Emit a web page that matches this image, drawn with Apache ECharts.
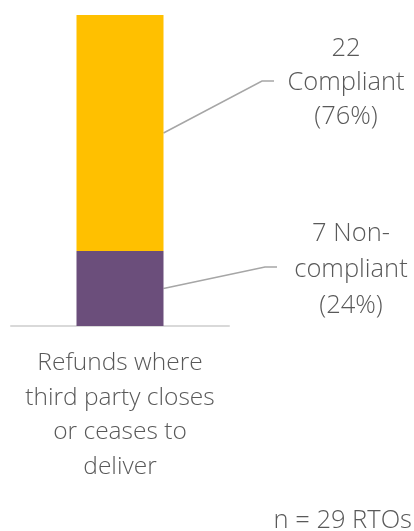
<!DOCTYPE html>
<html>
<head>
<meta charset="utf-8">
<script src="https://cdn.jsdelivr.net/npm/echarts@6/dist/echarts.min.js"></script>
<style>
  html, body { margin: 0; padding: 0; background: #fff; }
  #chart { width: 414px; height: 531px; }
</style>
</head>
<body>
<div id="chart"></div>
<script>
// Data
const categories = ['Refunds where\nthird party closes\nor ceases to\ndeliver'];
const nonCompliant = [7];
const compliant = [22];
const nonCompliantText = '7 Non-\ncompliant';
const compliantText = '22\nCompliant';
const sampleNote = 'n = 29 RTOs';

const total = nonCompliant[0] + compliant[0];
const pct = v => '(' + Math.round(v / total * 100) + '%)';

// Styling
const FONT = '"Open Sans", "Segoe UI", sans-serif';
const WEIGHT = 350;
const TEXT = '#595959';
const LEADER = '#A6A6A6';
const BAR_W = 87;

const chart = echarts.init(document.getElementById('chart'), null, { renderer: 'canvas' });

chart.setOption({
  animation: false,
  grid: { left: 11, right: 185, top: 15, bottom: 205 },
  xAxis: {
    type: 'category',
    data: categories,
    axisLine: { lineStyle: { color: '#D9D9D9', width: 2 } },
    axisTick: { show: false },
    axisLabel: { fontFamily: FONT, fontWeight: WEIGHT, fontSize: 24.5, lineHeight: 34.5, color: TEXT, margin: 20 }
  },
  yAxis: { type: 'value', min: 0, max: total, show: false },
  series: [
    { name: 'Non-compliant', type: 'bar', stack: 'all', data: nonCompliant, barWidth: BAR_W,
      itemStyle: { color: '#6B4E7B' } },
    { name: 'Compliant', type: 'bar', stack: 'all', data: compliant, barWidth: BAR_W,
      itemStyle: { color: '#FFC000' } }
  ]
});

// Leader lines start at the right edge of each segment, at its vertical middle
const toPx = v => chart.convertToPixel({ gridIndex: 0 }, [0, v]);
const barRight = toPx(0)[0] + BAR_W / 2;
const yNon = toPx(nonCompliant[0] / 2)[1];
const yComp = toPx(nonCompliant[0] + compliant[0] / 2)[1];

const textStyle = (text, lh) => ({
  text, fontFamily: FONT, fontWeight: WEIGHT, fontSize: 25.5, lineHeight: lh, fill: TEXT,
  align: 'center', verticalAlign: 'middle'
});

chart.setOption({
  graphic: [
    { type: 'polyline', shape: { points: [[barRight, yComp], [262, 81], [274, 81]] },
      style: { stroke: LEADER, lineWidth: 1.5, fill: null } },
    { type: 'polyline', shape: { points: [[barRight, yNon], [265, 267], [277, 267]] },
      style: { stroke: LEADER, lineWidth: 1.5, fill: null } },
    { type: 'text', x: 346, y: 83, style: textStyle(compliantText + '\n' + pct(compliant[0]), 34) },
    { type: 'text', x: 351, y: 270, style: textStyle(nonCompliantText + '\n' + pct(nonCompliant[0]), 36) },
    { type: 'text', x: 412, y: 521, style: {
      text: sampleNote, fontFamily: FONT, fontWeight: WEIGHT, fontSize: 25.5, fill: TEXT,
      align: 'right', verticalAlign: 'middle' } }
  ]
});
</script>
</body>
</html>
